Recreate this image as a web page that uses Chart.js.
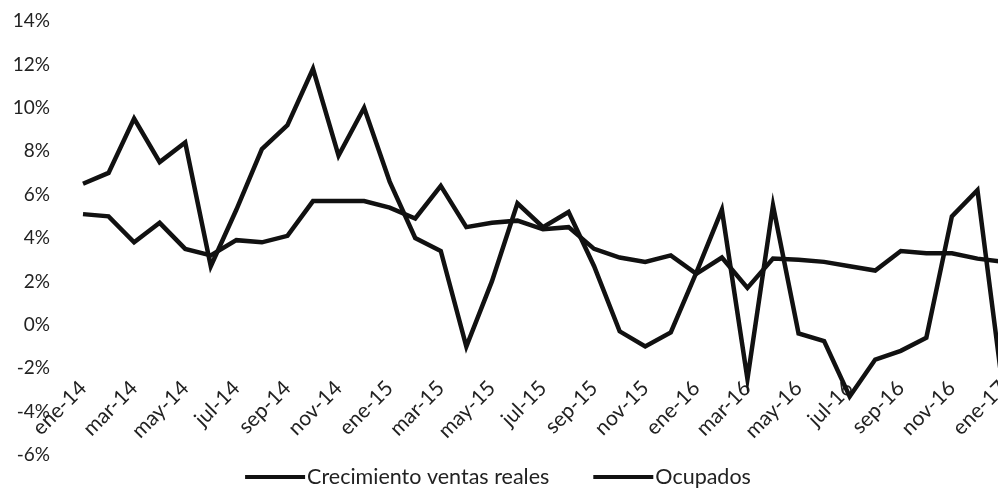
<!DOCTYPE html>
<html>
<head>
<meta charset="utf-8">
<script src="https://cdn.jsdelivr.net/npm/chart.js@4.4.1/dist/chart.umd.min.js"></script>
<style>
  html, body { margin: 0; padding: 0; background: #fff; overflow: hidden; }
  /* the last month sits just past the right edge, as in the source picture */
  #clip { width: 998px; height: 492px; overflow: hidden; }
  #wrap { width: 1003px; height: 492px; }
</style>
</head>
<body>
<div id="clip"><div id="wrap"><canvas id="chart"></canvas></div></div>
<script>
// Monthly categories, ene-14 .. ene-17
const months = [
  'ene-14', 'feb-14', 'mar-14', 'abr-14', 'may-14', 'jun-14', 'jul-14', 'ago-14', 'sep-14', 'oct-14', 'nov-14', 'dic-14',
  'ene-15', 'feb-15', 'mar-15', 'abr-15', 'may-15', 'jun-15', 'jul-15', 'ago-15', 'sep-15', 'oct-15', 'nov-15', 'dic-15',
  'ene-16', 'feb-16', 'mar-16', 'abr-16', 'may-16', 'jun-16', 'jul-16', 'ago-16', 'sep-16', 'oct-16', 'nov-16', 'dic-16',
  'ene-17'
];

// Series values (%)
const ventasReales = [
  6.5, 7.0, 9.5, 7.5, 8.4, 2.7, 5.3, 8.1, 9.2, 11.8, 7.8, 10.0,
  6.6, 4.0, 3.4, -1.0, 2.0, 5.6, 4.5, 5.2, 2.7, -0.3, -1.0, -0.35,
  2.4, 5.3, -2.5, 5.5, -0.4, -0.75, -3.3, -1.6, -1.2, -0.6, 5.0, 6.2,
  -3.0
];
const ocupados = [
  5.1, 5.0, 3.8, 4.7, 3.5, 3.2, 3.9, 3.8, 4.1, 5.7, 5.7, 5.7,
  5.4, 4.9, 6.4, 4.5, 4.7, 4.8, 4.4, 4.5, 3.5, 3.1, 2.9, 3.2,
  2.35, 3.1, 1.7, 3.05, 3.0, 2.9, 2.7, 2.5, 3.4, 3.3, 3.3, 3.05,
  2.9
];

// Y axis ticks
const yMin = -6;
const yMax = 14;
const yStep = 2;

const FONT = 'Lato, "Open Sans", sans-serif';
const TEXT_COLOR = '#222';
const LINE_COLOR = '#111';

// Simple bottom legend: line sample followed directly by the text
const lineLegend = {
  id: 'lineLegend',
  afterDraw(chart) {
    const ctx = chart.ctx;
    const sets = chart.data.datasets;
    const lineLen = 60, gap = 2, itemGap = 44, cy = 477;
    ctx.save();
    ctx.font = '21.5px ' + FONT;
    ctx.textBaseline = 'middle';
    ctx.textAlign = 'left';
    const widths = sets.map(ds => ctx.measureText(ds.label).width);
    const total = widths.reduce((a, w) => a + lineLen + gap + w, 0) + itemGap * (sets.length - 1);
    let x = 498 - total / 2;
    sets.forEach((ds, i) => {
      ctx.fillStyle = ds.borderColor;
      ctx.fillRect(x, cy - 2, lineLen, 4);
      x += lineLen + gap;
      ctx.fillStyle = TEXT_COLOR;
      ctx.fillText(ds.label, x, cy);
      x += widths[i] + itemGap;
    });
    ctx.restore();
  }
};

const ctx = document.getElementById('chart').getContext('2d');
new Chart(ctx, {
  type: 'line',
  data: {
    labels: months,
    datasets: [
      {
        label: 'Crecimiento ventas reales',
        data: ventasReales,
        borderColor: LINE_COLOR,
        borderWidth: 4.5,
        pointRadius: 0,
        tension: 0,
        fill: false
      },
      {
        label: 'Ocupados',
        data: ocupados,
        borderColor: LINE_COLOR,
        borderWidth: 4.5,
        pointRadius: 0,
        tension: 0,
        fill: false
      }
    ]
  },
  options: {
    responsive: true,
    maintainAspectRatio: false,
    animation: false,
    layout: { padding: { left: 0, right: 0, top: 21, bottom: 37 } },
    plugins: {
      legend: { display: false },
      tooltip: { enabled: false }
    },
    scales: {
      x: {
        type: 'category',
        position: { y: 0 },
        offset: false,
        grid: { display: false, drawTicks: false },
        border: { display: false },
        ticks: {
          autoSkip: false,
          minRotation: 45,
          maxRotation: 45,
          padding: 51,
          color: TEXT_COLOR,
          font: { family: FONT, size: 21 },
          callback: (v, i) => (i % 2 === 0 ? months[i] : '')
        },
        afterFit: (scale) => {
          scale.paddingLeft = 0;
          scale.paddingRight = 0;
        }
      },
      y: {
        min: yMin,
        max: yMax,
        grid: { display: false, drawTicks: false },
        border: { display: false },
        ticks: {
          stepSize: yStep,
          padding: 33,
          color: TEXT_COLOR,
          font: { family: FONT, size: 19 },
          callback: (v) => v + '%'
        },
        afterFit: (scale) => {
          scale.width = 83;
          scale.paddingTop = 0;
          scale.paddingBottom = 0;
        }
      }
    }
  },
  plugins: [lineLegend]
});
</script>
</body>
</html>
